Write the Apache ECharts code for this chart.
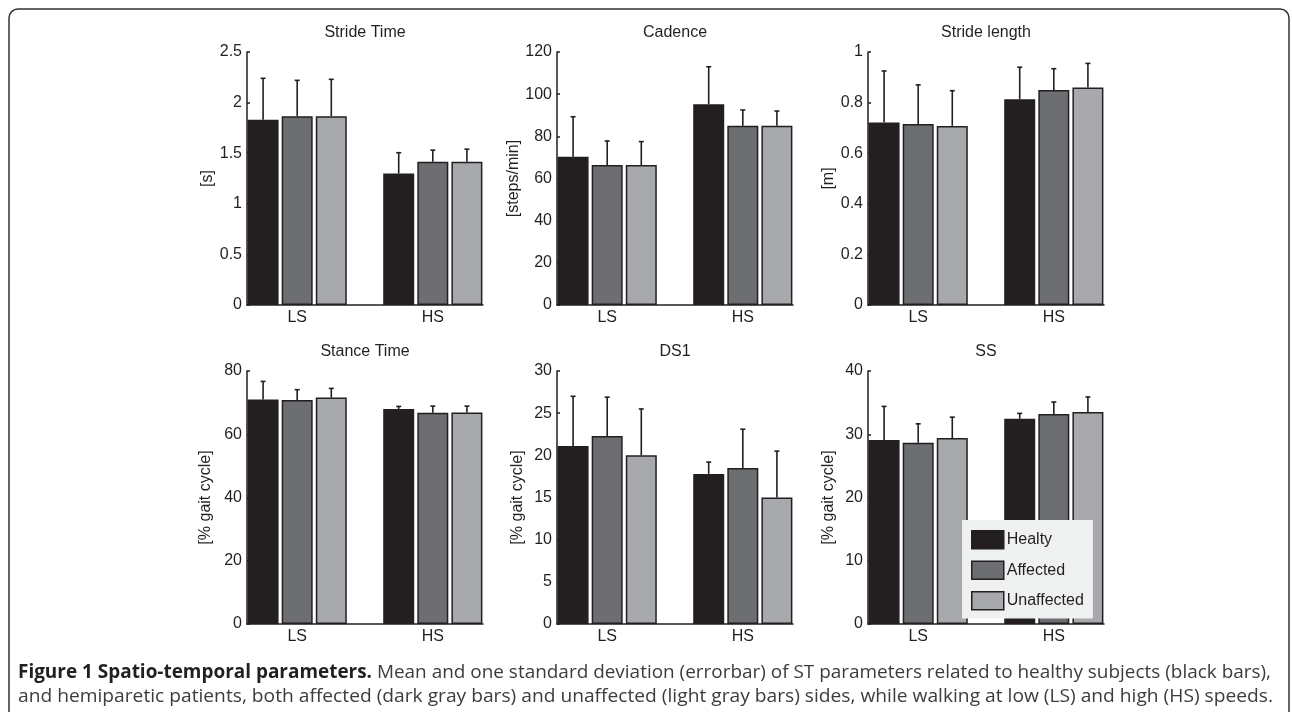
<!DOCTYPE html>
<html><head><meta charset="utf-8">
<script src="https://cdn.jsdelivr.net/npm/echarts@6/dist/echarts.min.js"></script>
<style>html,body{margin:0;padding:0;background:#fff}#c{width:1292px;height:712px}</style>
</head><body><div id="c"></div>
<script>
// ---- data ----
const speeds = ['LS', 'HS'];
const groups = ['Healty', 'Affected', 'Unaffected'];
const panelTitles = ['Stride Time', 'Cadence', 'Stride length', 'Stance Time', 'DS1', 'SS'];
const panelUnits = ['[s]', '[steps/min]', '[m]', '[% gait cycle]', '[% gait cycle]', '[% gait cycle]'];
const yMax = [2.5, 120, 1, 80, 30, 40];
const yStep = [0.5, 20, 0.2, 20, 5, 10];
// rows: speed (LS, HS); columns: group (Healty, Affected, Unaffected)
const strideTimeMean = [[1.83, 1.865, 1.865], [1.30, 1.415, 1.415]];
const strideTimeSD   = [[0.41, 0.355, 0.365], [0.205, 0.115, 0.125]];
const cadenceMean    = [[70.3, 66.4, 66.4], [95.2, 85.0, 85.0]];
const cadenceSD      = [[19.0, 11.4, 11.1], [17.8, 7.5, 7.0]];
const strideLenMean  = [[0.721, 0.715, 0.708], [0.813, 0.850, 0.860]];
const strideLenSD    = [[0.204, 0.155, 0.139], [0.127, 0.084, 0.095]];
const stanceMean     = [[71.0, 70.8, 71.6], [68.0, 66.8, 66.9]];
const stanceSD       = [[5.7, 3.3, 2.9], [0.8, 2.1, 2.0]];
const ds1Mean        = [[21.1, 22.3, 20.0], [17.8, 18.5, 15.0]];
const ds1SD          = [[5.9, 4.6, 5.5], [1.4, 4.6, 5.5]];
const ssMean         = [[29.1, 28.65, 29.4], [32.45, 33.2, 33.5]];
const ssSD           = [[5.3, 3.0, 3.3], [0.85, 1.9, 2.4]];
const captionBold = 'Figure 1 Spatio-temporal parameters.';
const captionLine1 = ' Mean and one standard deviation (errorbar) of ST parameters related to healthy subjects (black bars),';
const captionLine2 = 'and hemiparetic patients, both affected (dark gray bars) and unaffected (light gray bars) sides, while walking at low (LS) and high (HS) speeds.';

const means = [strideTimeMean, cadenceMean, strideLenMean, stanceMean, ds1Mean, ssMean];
const sds = [strideTimeSD, cadenceSD, strideLenSD, stanceSD, ds1SD, ssSD];

// ---- style ----
const INK = '#231f20';
const barColors = ['#231f20', '#6d6e72', '#a7a9ac'];
const gridLefts = [247, 557, 868];
const gridTops = [52, 371];
const GW = 236, GH = 253;
const BAR_W = 31, GAP_RATIO = 0.1;
const FONT = '"Liberation Sans", Arial, Helvetica, sans-serif';
const nameGaps = [28, 31, 31, 33, 31, 31];

const grids = [], xAxes = [], yAxes = [], series = [], graphics = [];
for (let p = 0; p < 6; p++) {
  const col = p % 3, row = Math.floor(p / 3);
  grids.push({ left: gridLefts[col], top: gridTops[row], width: GW, height: GH });
  xAxes.push({
    type: 'value', gridIndex: p, min: 0.63, max: 2.37,
    axisLine: { show: true, onZero: false, lineStyle: { color: INK, width: 1.5 } },
    axisTick: { show: false },
    splitLine: { show: false },
    axisLabel: { customValues: [1, 2], formatter: v => speeds[Math.round(v) - 1] || '',
      color: INK, fontSize: 16, fontFamily: FONT, margin: 5 }
  });
  yAxes.push({
    type: 'value', gridIndex: p, min: 0, max: yMax[p], interval: yStep[p],
    name: panelUnits[p], nameLocation: 'middle', nameGap: nameGaps[p],
    nameTextStyle: { color: INK, fontSize: 16, fontFamily: FONT },
    axisLine: { show: true, onZero: false, lineStyle: { color: INK, width: 1.5 } },
    axisTick: { show: true, inside: true, length: 3, lineStyle: { color: INK, width: 1.5 } },
    splitLine: { show: false },
    axisLabel: { color: INK, fontSize: 16, fontFamily: FONT, margin: 5 }
  });
  for (let g = 0; g < 3; g++) {
    series.push({
      type: 'bar', name: groups[g], xAxisIndex: p, yAxisIndex: p,
      barWidth: BAR_W, barGap: (GAP_RATIO * 100) + '%',
      itemStyle: { color: barColors[g], borderColor: INK, borderWidth: 1.5 },
      emphasis: { disabled: true },
      data: speeds.map((s, si) => [si + 1, means[p][si][g]])
    });
  }
  const ebData = [];
  speeds.forEach((s, si) => { for (let g = 0; g < 3; g++) ebData.push([si + 1, means[p][si][g], sds[p][si][g], g]); });
  series.push({
    type: 'custom', xAxisIndex: p, yAxisIndex: p, z: 5, clip: false, silent: true,
    encode: { x: 0, y: 1 },
    data: ebData,
    renderItem: function (params, api) {
      const xv = api.value(0), m = api.value(1), sd = api.value(2), g = api.value(3);
      const step = BAR_W * (1 + GAP_RATIO);
      const b = api.coord([xv, m]);
      const t = api.coord([xv, m + sd]);
      const x = b[0] + (g - 1) * step;
      const st = { stroke: INK, lineWidth: 1.6 };
      return { type: 'group', children: [
        { type: 'line', shape: { x1: x, y1: b[1], x2: x, y2: t[1] }, style: st },
        { type: 'line', shape: { x1: x - 2.5, y1: t[1], x2: x + 2.5, y2: t[1] }, style: st }
      ] };
    }
  });
  graphics.push({
    type: 'text', x: gridLefts[col] + GW / 2, y: gridTops[row] - 19,
    style: { text: panelTitles[p], fill: INK, font: '16px ' + FONT, align: 'center', verticalAlign: 'middle' }
  });
}

// caption sizing via measurement
const cv = document.createElement('canvas').getContext('2d');
const CAP_FS = 19;
const boldFont = '700 ' + CAP_FS + 'px "Open Sans"';
const regFont = '400 ' + CAP_FS + 'px "Open Sans"';
cv.font = boldFont; const wb = cv.measureText(captionBold).width;
cv.font = regFont; const w1 = cv.measureText(captionLine1).width; const w2 = cv.measureText(captionLine2).width;
const CAP_X = 18;
const s1 = (1271 - CAP_X) / (wb + w1);
const s2 = (1273 - CAP_X) / w2;

graphics.push({
  type: 'rect', shape: { x: 9, y: 9, width: 1280, height: 760, r: 9 }, silent: true,
  style: { fill: 'none', stroke: '#333', lineWidth: 1.5 }
});
graphics.push({
  type: 'text', x: CAP_X, y: 673, scaleX: s1,
  style: { text: '{b|' + captionBold + '}{r|' + captionLine1 + '}', verticalAlign: 'middle', align: 'left',
    rich: { b: { font: boldFont, fill: '#231f20' }, r: { font: regFont, fill: '#3c3c3c' } } }
});
graphics.push({
  type: 'text', x: CAP_X, y: 697, scaleX: s2,
  style: { text: captionLine2, font: regFont, fill: '#3c3c3c', verticalAlign: 'middle', align: 'left' }
});

const chart = echarts.init(document.getElementById('c'), null, { renderer: 'canvas' });
chart.setOption({
  animation: false,
  backgroundColor: '#fff',
  grid: grids, xAxis: xAxes, yAxis: yAxes, series: series,
  legend: {
    data: groups, orient: 'vertical', left: 962, top: 520,
    padding: [10, 9, 8, 9], itemGap: 11, itemWidth: 32, itemHeight: 18, icon: 'rect',
    backgroundColor: '#eff0f0', selectedMode: false, z: 10,
    itemStyle: { borderColor: INK, borderWidth: 1.5 },
    textStyle: { color: INK, fontSize: 16, fontFamily: FONT, padding: [0, 0, 0, -2] }
  },
  graphic: graphics
});
</script></body></html>
